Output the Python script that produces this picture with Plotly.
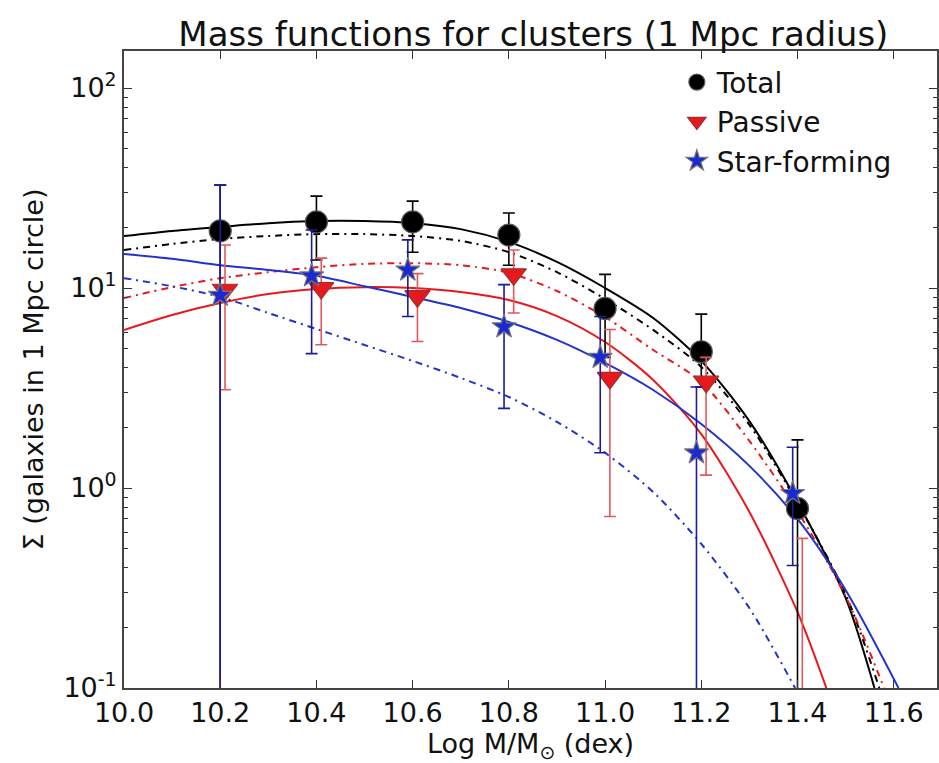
import plotly.graph_objects as go

# ---- measured points (galaxies per 1 Mpc circle) ----
x_total = [10.2, 10.4, 10.6, 10.8, 11.0, 11.2, 11.4]
y_total = [19.3, 21.4, 21.4, 18.4, 7.9, 4.8, 0.79]
hi_total = [32.7, 28.8, 27.2, 23.7, 11.7, 7.4, 1.74]
lo_total = [0.0, 13.8, 15.1, 13.0, 4.5, 3.2, 0.0]

x_pass = [10.21, 10.41, 10.61, 10.81, 11.01, 11.21, 11.41]
y_pass = [9.8, 10.0, 9.1, 11.7, 3.55, 3.4, 0.0]
hi_pass = [16.4, 14.1, 11.8, 15.5, 6.2, 4.5, 0.56]
lo_pass = [3.1, 5.2, 5.4, 7.5, 0.72, 1.16, 0.0]

x_sf = [10.2, 10.39, 10.59, 10.79, 10.99, 11.19, 11.39]
y_sf = [9.2, 11.5, 12.3, 6.4, 4.5, 1.5, 0.94]
hi_sf = [32.7, 19.5, 17.4, 10.4, 7.2, 3.2, 1.6]
lo_sf = [0.0, 4.7, 7.2, 2.5, 1.5, 0.0, 0.41]

# ---- fitted mass-function curves, sampled every 0.1 dex ----
xf_grid = [10.0, 10.1, 10.2, 10.3, 10.4, 10.5, 10.6, 10.7, 10.8, 10.9,
           11.0, 11.1, 11.2, 11.3, 11.4, 11.5]

xf_tot = xf_grid + [11.56]
yf_tot = [18.2, 19.3, 20.2, 21.1, 21.6, 21.6, 21.1, 19.7, 17.0, 13.5,
          10.0, 7.08, 4.32, 2.16, 0.851, 0.282, 0.1]

xf_tot2 = xf_grid + [11.57]
yf_tot2 = [15.5, 16.6, 17.6, 18.2, 18.6, 18.6, 18.2, 17.2, 15.1, 12.0,
           8.81, 6.17, 4.03, 2.07, 0.841, 0.295, 0.1]

xf_pass = xf_grid[:15] + [11.46]
yf_pass = [6.17, 7.33, 8.41, 9.33, 9.89, 10.1, 10.0, 9.55, 8.71, 7.24,
           5.37, 3.47, 1.86, 0.759, 0.240, 0.1]

xf_pass2 = xf_grid + [11.58]
yf_pass2 = [8.91, 10.1, 11.2, 12.0, 12.7, 13.2, 13.3, 13.0, 11.9, 9.66,
            7.16, 4.90, 3.39, 1.72, 0.767, 0.288, 0.1]

xf_sf = xf_grid + [11.61]
yf_sf = [14.8, 14.0, 13.0, 12.3, 11.5, 10.2, 9.02, 7.94, 6.76, 5.50,
         4.22, 3.09, 2.09, 1.29, 0.700, 0.309, 0.1]

xf_sf2 = xf_grid[:14] + [11.395]
yf_sf2 = [11.2, 10.2, 9.02, 7.50, 6.24, 5.19, 4.32, 3.55, 2.85, 2.14,
          1.50, 0.955, 0.525, 0.251, 0.1]

x_ticks = [10.0, 10.2, 10.4, 10.6, 10.8, 11.0, 11.2, 11.4, 11.6]
y_ticks = [0.1, 1, 10, 100]
y_ticktext = ["10<sup>-1</sup>", "10<sup>0</sup>", "10<sup>1</sup>", "10<sup>2</sup>"]

FLOOR = 1e-3  # stand-in for zero counts on the log axis

BLACK = "#000000"
RED = "#e8191c"
RED_BAR = "#e05a5c"
BLUE = "#2233cc"
BLUE_BAR = "#1c1c94"
FONT = "DejaVu Sans"
DASHDOT = "7px,5px,2px,5px"


def errs(y, hi, lo):
    yp = [max(v, FLOOR) for v in y]
    plus = [h - v for h, v in zip(hi, yp)]
    minus = [v - max(l, FLOOR * 0.5) for v, l in zip(yp, lo)]
    return yp, plus, minus


fig = go.Figure()

curves = [
    (xf_tot, yf_tot, BLACK, "solid"),
    (xf_tot2, yf_tot2, BLACK, DASHDOT),
    (xf_pass, yf_pass, RED, "solid"),
    (xf_pass2, yf_pass2, RED, DASHDOT),
    (xf_sf, yf_sf, BLUE, "solid"),
    (xf_sf2, yf_sf2, BLUE, DASHDOT),
]
for xs, ys, col, dash in curves:
    fig.add_trace(go.Scatter(
        x=xs, y=ys, mode="lines", showlegend=False, hoverinfo="skip",
        line=dict(color=col, width=2, dash=dash, shape="spline", smoothing=0.8),
    ))

series = [
    ("Total", x_total, y_total, hi_total, lo_total, BLACK,
     dict(symbol="circle", size=22, color=BLACK, line=dict(color="#555555", width=1.2))),
    ("Passive", x_pass, y_pass, hi_pass, lo_pass, RED_BAR,
     dict(symbol="triangle-down", size=22, color=RED, line=dict(color="#9a3030", width=1.2))),
    ("Star-forming", x_sf, y_sf, hi_sf, lo_sf, BLUE_BAR,
     dict(symbol="star", size=18, color="#1a2ad0", line=dict(color="#777777", width=1.2))),
]
for name, xs, ys, hi, lo, barcol, mk in series:
    yp, plus, minus = errs(ys, hi, lo)
    fig.add_trace(go.Scatter(
        x=xs, y=yp, mode="markers", name=name, marker=mk,
        error_y=dict(type="data", symmetric=False, array=plus, arrayminus=minus,
                     color=barcol, thickness=1.6, width=6),
    ))

minor_vals = [m * 10 ** d for d in (-1, 0, 1, 2) for m in range(2, 10)]

fig.update_layout(
    width=939, height=763,
    margin=dict(l=124, r=0, t=51, b=75),
    paper_bgcolor="white", plot_bgcolor="white",
    font=dict(family=FONT, size=27, color="#111111"),
    title=dict(text="Mass functions for clusters (1 Mpc radius)",
               x=0.568, xref="container", xanchor="center",
               y=0.955, yref="container", yanchor="middle",
               font=dict(size=34, family=FONT, color="#111111")),
    showlegend=True,
    legend=dict(x=0.68, y=0.99, xanchor="left", yanchor="top",
                bgcolor="rgba(0,0,0,0)", font=dict(size=28, family=FONT),
                itemwidth=30, tracegroupgap=0),
    xaxis=dict(
        range=[10.0, 11.69], tickvals=x_ticks,
        ticktext=[f"{v:.1f}" for v in x_ticks],
        ticks="inside", ticklen=8, tickwidth=1.2, tickcolor="#333333",
        showline=True, linecolor="#444444", linewidth=2, mirror="allticks",
        showgrid=False, zeroline=False,
        tickfont=dict(size=27, family=FONT),
        title=dict(text="Log M/M<sub>\u2299</sub> (dex)", standoff=4,
                   font=dict(size=27, family=FONT)),
    ),
    yaxis=dict(
        type="log", range=[-1, 2.185], tickvals=y_ticks, ticktext=y_ticktext,
        ticks="inside", ticklen=8, tickwidth=1.2, tickcolor="#333333",
        minor=dict(tickvals=minor_vals, ticks="inside", ticklen=4,
                   tickcolor="#333333", showgrid=False),
        showline=True, linecolor="#444444", linewidth=2, mirror="allticks",
        showgrid=False, zeroline=False,
        tickfont=dict(size=27, family=FONT),
        title=dict(text="\u03a3 (galaxies in 1 Mpc circle)", standoff=12,
                   font=dict(size=27, family=FONT)),
    ),
)

fig.write_html("out.html")
